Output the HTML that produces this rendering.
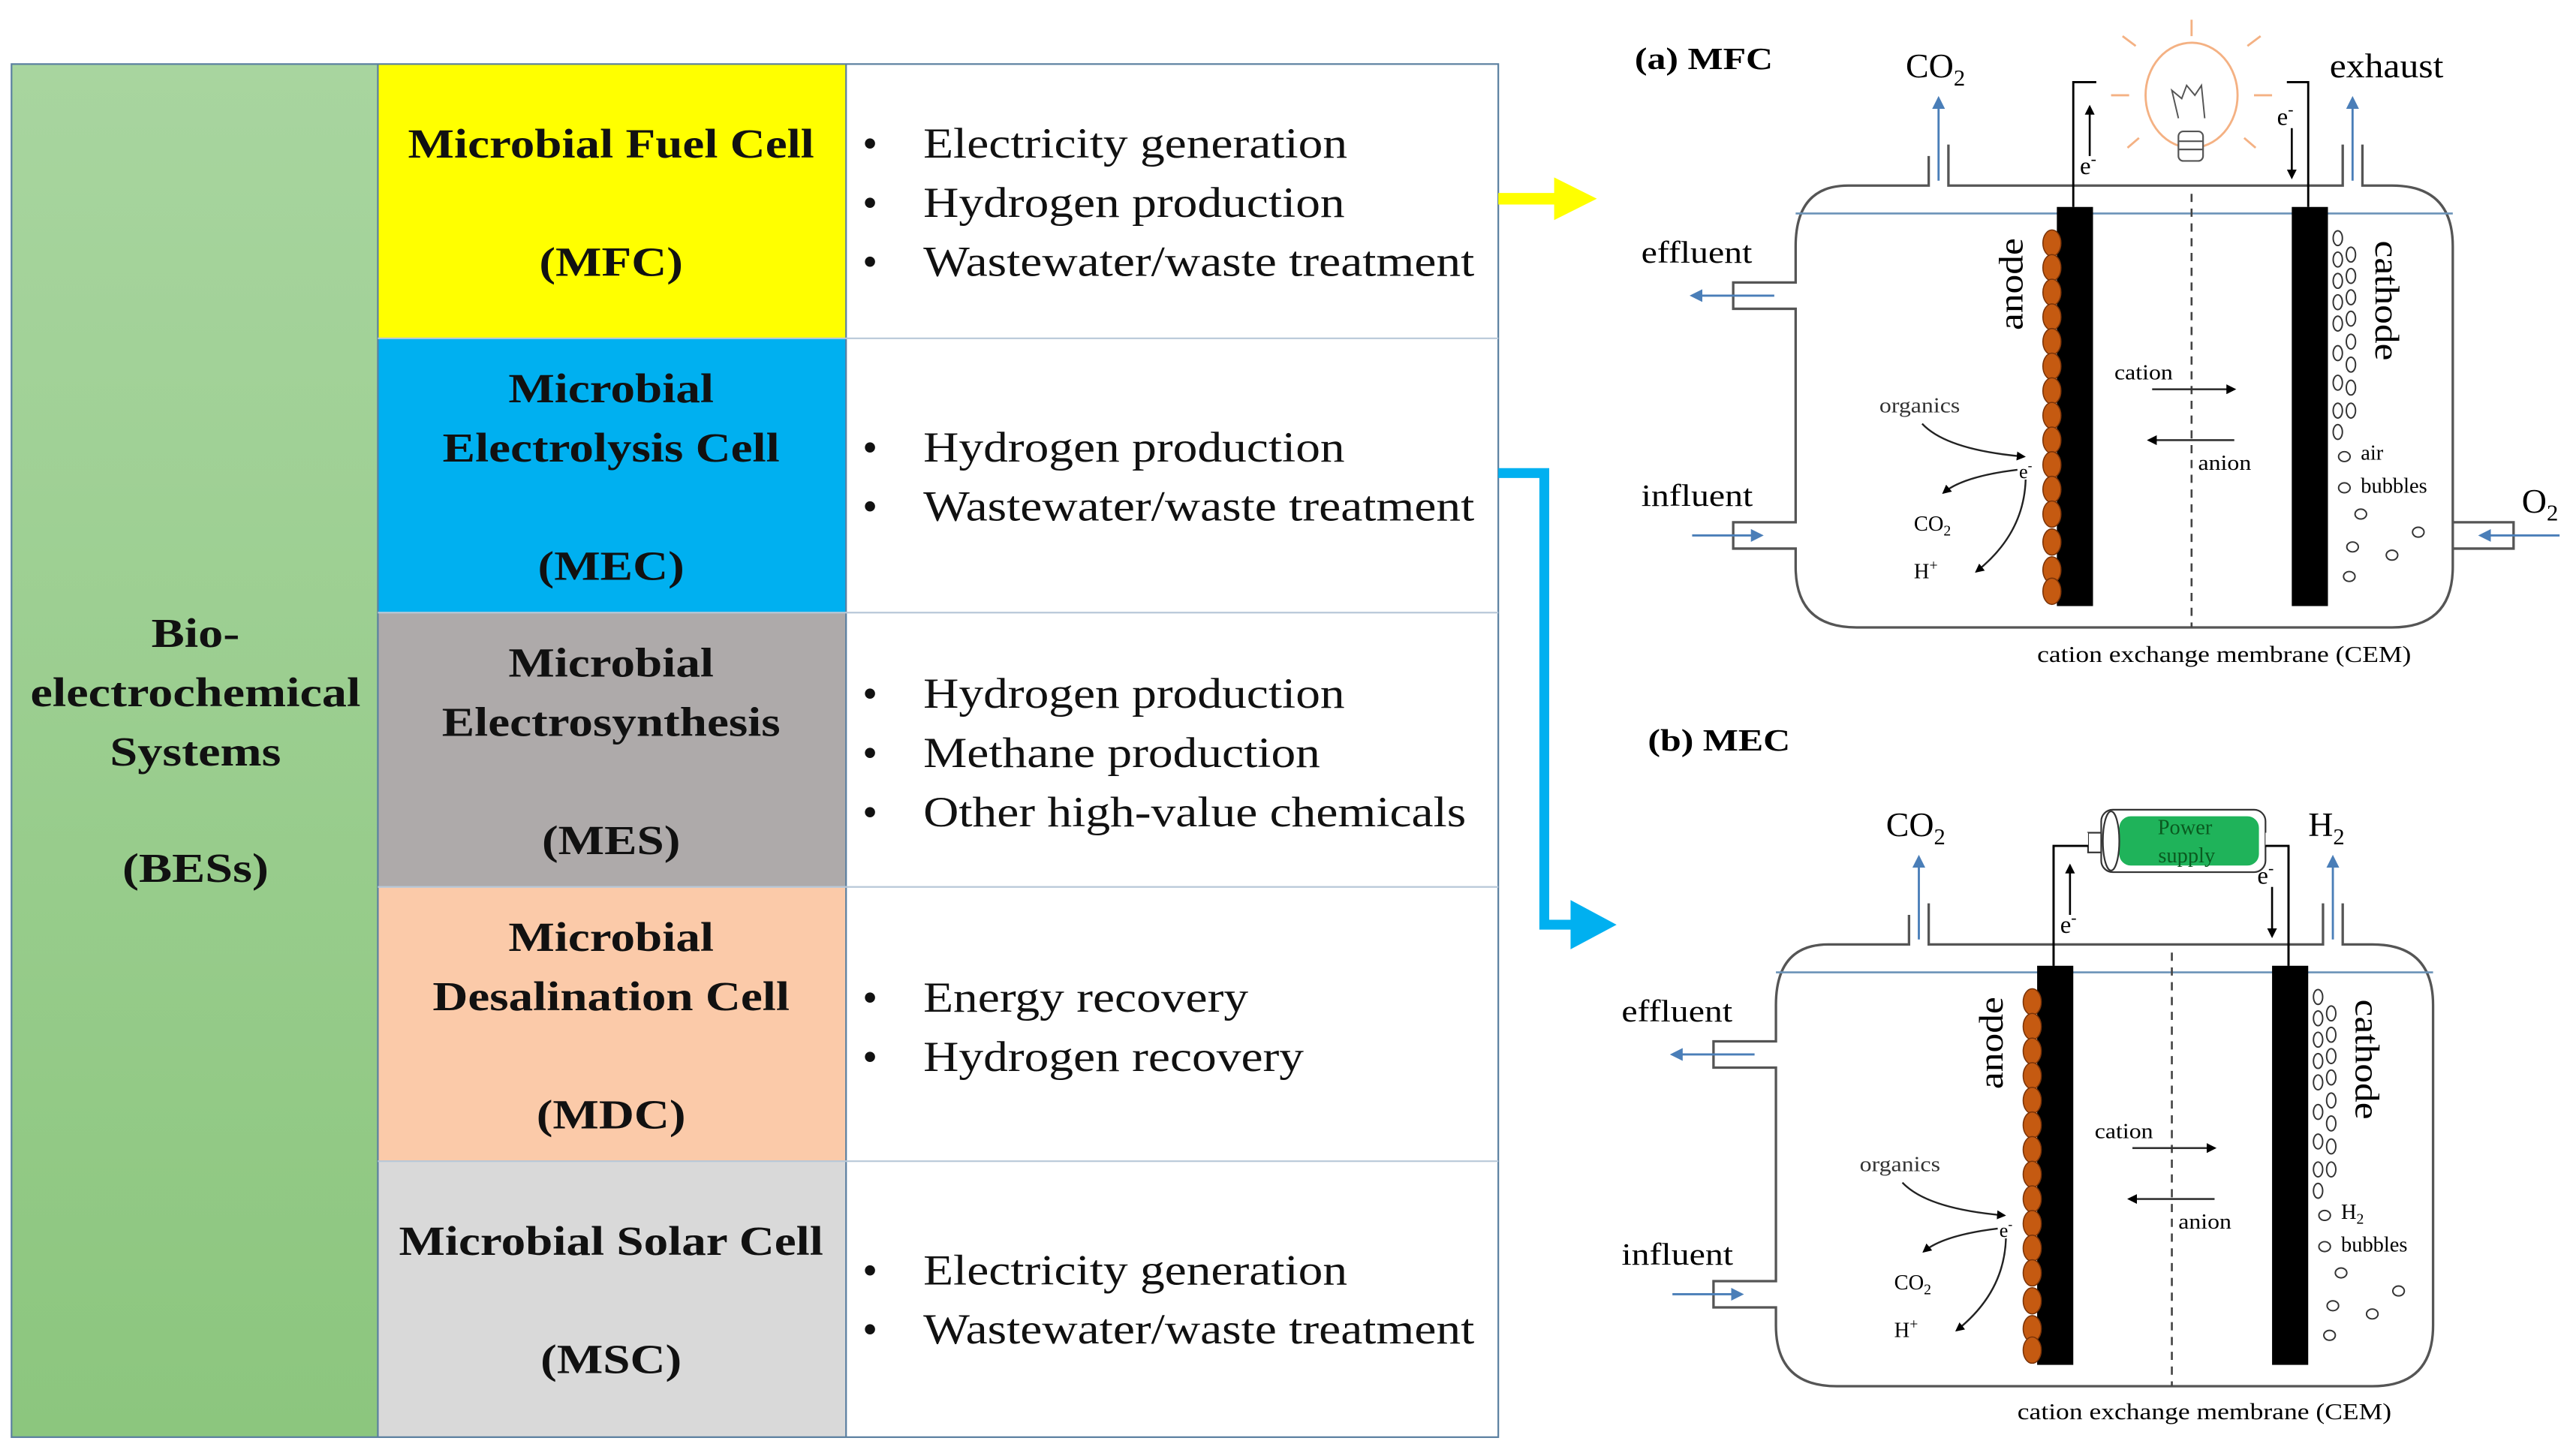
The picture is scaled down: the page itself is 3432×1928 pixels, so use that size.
<!DOCTYPE html>
<html><head><meta charset="utf-8"><style>html,body{margin:0;padding:0;background:#fff}svg{display:block}</style></head>
<body>
<svg width="3432" height="1928" viewBox="0 0 1568 881" preserveAspectRatio="none" xmlns="http://www.w3.org/2000/svg" font-family="Liberation Serif, serif">
<defs>
<linearGradient id="gr" x1="0" y1="0" x2="0" y2="1"><stop offset="0" stop-color="#a8d59f"/><stop offset="1" stop-color="#8cc67e"/></linearGradient>
<marker id="ab" viewBox="0 0 10 10" refX="8" refY="5" markerWidth="5" markerHeight="5" orient="auto"><path d="M0,0L10,5L0,10z" fill="#000"/></marker>
<marker id="ablue" viewBox="0 0 10 10" refX="8" refY="5" markerWidth="6" markerHeight="6" orient="auto"><path d="M0,0L10,5L0,10z" fill="#4a7eb8"/></marker>
<g id="cell">
<path d="M1174,95 V113 H1125 Q1093,113 1093,150 V172 H1055 V188 H1093 V318 H1055 V334 H1093 V345 Q1093,382 1130,382 H1456 Q1493,382 1493,345 V150 Q1493,113 1456,113 H1438 V88 M1426,88 V113 H1186 V88" fill="none" stroke="#555" stroke-width="1.5"/>
<line x1="1093" y1="130" x2="1493" y2="130" stroke="#6b93b8" stroke-width="1.2"/>
<line x1="1180" y1="110" x2="1180" y2="60" stroke="#4a7eb8" stroke-width="1.3" marker-end="url(#ablue)"/>
<line x1="1432" y1="110" x2="1432" y2="60" stroke="#4a7eb8" stroke-width="1.3" marker-end="url(#ablue)"/>
<line x1="1080" y1="180" x2="1030" y2="180" stroke="#4a7eb8" stroke-width="1.3" marker-end="url(#ablue)"/>
<line x1="1030" y1="326" x2="1072" y2="326" stroke="#4a7eb8" stroke-width="1.3" marker-end="url(#ablue)"/>
<text x="999" y="160" font-size="19" transform="matrix(1.15 0 0 1 -149.85 0)">effluent</text>
<text x="999" y="308" font-size="19" transform="matrix(1.15 0 0 1 -149.85 0)">influent</text>
<rect x="1252" y="126" width="22" height="243" fill="#000"/>
<rect x="1395" y="126" width="22" height="243" fill="#000"/>
<line x1="1334" y1="118" x2="1334" y2="382" stroke="#444" stroke-width="1.2" stroke-dasharray="5,4"/>
<g fill="#c55a11" stroke="#7a3308" stroke-width="0.7">
<ellipse cx="1249" cy="148" rx="5.5" ry="8"/><ellipse cx="1249" cy="163" rx="5.5" ry="8"/><ellipse cx="1249" cy="178" rx="5.5" ry="8"/><ellipse cx="1249" cy="193" rx="5.5" ry="8"/><ellipse cx="1249" cy="208" rx="5.5" ry="8"/><ellipse cx="1249" cy="223" rx="5.5" ry="8"/><ellipse cx="1249" cy="238" rx="5.5" ry="8"/><ellipse cx="1249" cy="253" rx="5.5" ry="8"/><ellipse cx="1249" cy="268" rx="5.5" ry="8"/><ellipse cx="1249" cy="283" rx="5.5" ry="8"/><ellipse cx="1249" cy="298" rx="5.5" ry="8"/><ellipse cx="1249" cy="313" rx="5.5" ry="8"/><ellipse cx="1249" cy="330" rx="5.5" ry="8"/><ellipse cx="1249" cy="347" rx="5.5" ry="8"/><ellipse cx="1249" cy="360" rx="5.5" ry="8"/>
</g>
<text transform="translate(1231,173) rotate(-90) scale(1.12,1)" font-size="21" text-anchor="middle">anode</text>
<text transform="translate(1446,183) rotate(90) scale(1.12,1)" font-size="21" text-anchor="middle">cathode</text>
<text x="1287" y="231" font-size="13" transform="matrix(1.12 0 0 1 -154.4 0)">cation</text>
<line x1="1310" y1="237" x2="1360" y2="237" stroke="#333" stroke-width="1.2" marker-end="url(#ab)"/>
<line x1="1360" y1="268" x2="1308" y2="268" stroke="#333" stroke-width="1.2" marker-end="url(#ab)"/>
<text x="1338" y="286" font-size="13" transform="matrix(1.12 0 0 1 -160.6 0)">anion</text>
<text x="1144" y="251" font-size="13" fill="#333" transform="matrix(1.12 0 0 1 -137.3 0)">organics</text>
<path d="M1170,258 Q1185,274 1232,278" fill="none" stroke="#222" stroke-width="1.1" marker-end="url(#ab)"/>
<text x="1229" y="291" font-size="12">e<tspan font-size="8" dy="-5">-</tspan></text>
<path d="M1228,286 Q1195,290 1183,300" fill="none" stroke="#222" stroke-width="1.1" marker-end="url(#ab)"/>
<path d="M1233,292 Q1232,325 1203,348" fill="none" stroke="#222" stroke-width="1.1" marker-end="url(#ab)"/>
<text x="1165" y="323" font-size="13">CO<tspan font-size="9" dy="3">2</tspan></text>
<text x="1165" y="352" font-size="13">H<tspan font-size="9" dy="-5">+</tspan></text>
<g fill="none" stroke="#333" stroke-width="0.9">
<ellipse cx="1423" cy="145" rx="2.8" ry="4.5"/><ellipse cx="1423" cy="158" rx="2.8" ry="4.5"/><ellipse cx="1423" cy="171" rx="2.8" ry="4.5"/><ellipse cx="1423" cy="184" rx="2.8" ry="4.5"/><ellipse cx="1423" cy="197" rx="2.8" ry="4.5"/>
<ellipse cx="1431" cy="155" rx="2.8" ry="4.5"/><ellipse cx="1431" cy="168" rx="2.8" ry="4.5"/><ellipse cx="1431" cy="181" rx="2.8" ry="4.5"/><ellipse cx="1431" cy="194" rx="2.8" ry="4.5"/><ellipse cx="1431" cy="208" rx="2.8" ry="4.5"/><ellipse cx="1431" cy="222" rx="2.8" ry="4.5"/><ellipse cx="1431" cy="236" rx="2.8" ry="4.5"/><ellipse cx="1431" cy="250" rx="2.8" ry="4.5"/>
<ellipse cx="1423" cy="215" rx="2.8" ry="4.5"/><ellipse cx="1423" cy="233" rx="2.8" ry="4.5"/><ellipse cx="1423" cy="250" rx="2.8" ry="4.5"/><ellipse cx="1423" cy="263" rx="2.8" ry="4.5"/>
<ellipse cx="1427" cy="278" rx="3.5" ry="3"/><ellipse cx="1427" cy="297" rx="3.5" ry="3"/><ellipse cx="1437" cy="313" rx="3.5" ry="3"/><ellipse cx="1432" cy="333" rx="3.5" ry="3"/><ellipse cx="1430" cy="351" rx="3.5" ry="3"/><ellipse cx="1456" cy="338" rx="3.5" ry="3"/><ellipse cx="1472" cy="324" rx="3.5" ry="3"/>
</g>
<path d="M1262,126 V50 H1276 M1405,126 V50 H1392" fill="none" stroke="#000" stroke-width="1.3"/>
<line x1="1272" y1="95" x2="1272" y2="65" stroke="#000" stroke-width="1.2" marker-end="url(#ab)"/>
<line x1="1395" y1="78" x2="1395" y2="108" stroke="#000" stroke-width="1.2" marker-end="url(#ab)"/>
<text x="1266" y="106" font-size="15">e<tspan font-size="10" dy="-6">-</tspan></text>
<text x="1386" y="76" font-size="15">e<tspan font-size="10" dy="-6">-</tspan></text>
<text x="1160" y="47" font-size="21">CO<tspan font-size="14" dy="5">2</tspan></text>
</g>
</defs>

<rect x="7" y="39" width="223" height="836" fill="url(#gr)"/>
<rect x="230" y="39" width="285" height="167" fill="#ffff00"/>
<rect x="230" y="206" width="285" height="167" fill="#00b0f0"/>
<rect x="230" y="373" width="285" height="167" fill="#aeaaaa"/>
<rect x="230" y="540" width="285" height="167" fill="#fbcaa9"/>
<rect x="230" y="707" width="285" height="168" fill="#d9d9d9"/>
<g stroke="#5a7fa0" stroke-width="1" fill="none">
<rect x="7" y="39" width="905" height="836"/>
<line x1="230" y1="39" x2="230" y2="875"/><line x1="515" y1="39" x2="515" y2="875"/>
<line x1="230" y1="206" x2="912" y2="206" stroke="#b8c8d8"/><line x1="230" y1="373" x2="912" y2="373" stroke="#b8c8d8"/>
<line x1="230" y1="540" x2="912" y2="540" stroke="#b8c8d8"/><line x1="230" y1="707" x2="912" y2="707" stroke="#b8c8d8"/>
</g>
<g font-size="25" font-weight="bold" text-anchor="middle" fill="#111" transform="matrix(1.21 0 0 1 -25 0)">
<text x="119" y="394">Bio-</text><text x="119" y="430">electrochemical</text><text x="119" y="466">Systems</text><text x="119" y="537">(BESs)</text>
</g>
<g font-size="25" font-weight="bold" text-anchor="middle" fill="#111" transform="matrix(1.19 0 0 1 -70.7 0)">
<text x="372" y="96">Microbial Fuel Cell</text><text x="372" y="168">(MFC)</text>
<text x="372" y="245">Microbial</text><text x="372" y="281">Electrolysis Cell</text><text x="372" y="353">(MEC)</text>
<text x="372" y="412">Microbial</text><text x="372" y="448">Electrosynthesis</text><text x="372" y="520">(MES)</text>
<text x="372" y="579">Microbial</text><text x="372" y="615">Desalination Cell</text><text x="372" y="687">(MDC)</text>
<text x="372" y="764">Microbial Solar Cell</text><text x="372" y="836">(MSC)</text>
</g>
<g font-size="26" fill="#111">
<text x="525" y="96">•</text><text x="525" y="132">•</text><text x="525" y="168">•</text>
<text x="525" y="281">•</text><text x="525" y="317">•</text>
<text x="525" y="431">•</text><text x="525" y="467">•</text><text x="525" y="503">•</text>
<text x="525" y="616">•</text><text x="525" y="652">•</text>
<text x="525" y="782">•</text><text x="525" y="818">•</text>
</g>
<g font-size="26" fill="#111" transform="matrix(1.15 0 0 1 -84.3 0)">
<text x="562" y="96">Electricity generation</text>
<text x="562" y="132">Hydrogen production</text>
<text x="562" y="168">Wastewater/waste treatment</text>
<text x="562" y="281">Hydrogen production</text>
<text x="562" y="317">Wastewater/waste treatment</text>
<text x="562" y="431">Hydrogen production</text>
<text x="562" y="467">Methane production</text>
<text x="562" y="503">Other high-value chemicals</text>
<text x="562" y="616">Energy recovery</text>
<text x="562" y="652">Hydrogen recovery</text>
<text x="562" y="782">Electricity generation</text>
<text x="562" y="818">Wastewater/waste treatment</text>
</g>

<path d="M912,121 H950" stroke="#ffff00" stroke-width="7" fill="none"/>
<path d="M946,108 L972,121 L946,134 Z" fill="#ffff00"/>
<path d="M912,288 H940 V563 H962" stroke="#00b0f0" stroke-width="6" fill="none"/>
<path d="M956,548 L984,563 L956,578 Z" fill="#00b0f0"/>

<use href="#cell"/>
<text x="995" y="42" font-size="19" font-weight="bold" transform="matrix(1.2 0 0 1 -199 0)">(a) MFC</text>
<text x="1418" y="47" font-size="21" transform="matrix(1.08 0 0 1 -113.4 0)">exhaust</text>
<path d="M1493,318 H1530 V334 H1493" fill="none" stroke="#555" stroke-width="1.5"/>
<line x1="1558" y1="326" x2="1510" y2="326" stroke="#4a7eb8" stroke-width="1.3" marker-end="url(#ablue)"/>
<text x="1535" y="312" font-size="21">O<tspan font-size="14" dy="5">2</tspan></text>
<text x="1437" y="280" font-size="13">air</text>
<text x="1437" y="300" font-size="13">bubbles</text>
<text x="1240" y="403" font-size="14" transform="matrix(1.16 0 0 1 -198.4 0)">cation exchange membrane  (CEM)</text>
<g stroke="#f4b183" stroke-width="1.3" fill="none">
<ellipse cx="1334" cy="58" rx="28" ry="32"/>
<line x1="1334" y1="12" x2="1334" y2="22"/><line x1="1300" y1="28" x2="1292" y2="22"/><line x1="1368" y1="28" x2="1376" y2="22"/>
<line x1="1296" y1="58" x2="1285" y2="58"/><line x1="1372" y1="58" x2="1383" y2="58"/><line x1="1302" y1="84" x2="1295" y2="90"/><line x1="1366" y1="84" x2="1373" y2="90"/>
</g>
<path d="M1326,72 L1322,55 L1328,60 L1331,52 L1336,58 L1340,52 L1342,72" fill="none" stroke="#555" stroke-width="0.9"/>
<rect x="1326" y="80" width="15" height="18" rx="3" fill="#fff" stroke="#555" stroke-width="1"/>
<line x1="1326" y1="86" x2="1341" y2="86" stroke="#555"/><line x1="1326" y1="91" x2="1341" y2="91" stroke="#555"/>

<g transform="translate(-12,462)"><use href="#cell"/></g>
<text x="1003" y="457" font-size="19" font-weight="bold" transform="matrix(1.2 0 0 1 -200.6 0)">(b) MEC</text>
<text x="1405" y="509" font-size="21">H<tspan font-size="14" dy="5">2</tspan></text>
<text x="1425" y="742" font-size="13">H<tspan font-size="9" dy="3">2</tspan></text>
<text x="1425" y="762" font-size="13">bubbles</text>
<text x="1228" y="864" font-size="14" transform="matrix(1.16 0 0 1 -196.5 0)">cation exchange membrane  (CEM)</text>
<rect x="1279" y="493" width="100" height="38" rx="7" fill="#fff" stroke="#333" stroke-width="1"/>
<rect x="1290" y="497" width="85" height="30" rx="7" fill="#1fb35a"/>
<ellipse cx="1285" cy="512" rx="5" ry="18" fill="#fff" stroke="#333" stroke-width="1"/>
<rect x="1271" y="507" width="8" height="12" fill="#fff" stroke="#333" stroke-width="1"/>
<text x="1330" y="508" font-size="13" text-anchor="middle" fill="#0a5a20">Power</text>
<text x="1331" y="525" font-size="13" text-anchor="middle" fill="#0a5a20">supply</text>
<rect x="1240" y="507" width="31" height="8" fill="#fff"/>
<rect x="1379" y="507" width="20" height="8" fill="#fff"/>
<path d="M1250,588 V515 H1271 M1393,588 V515 H1379" fill="none" stroke="#000" stroke-width="1.3"/>
</svg>
</body></html>
